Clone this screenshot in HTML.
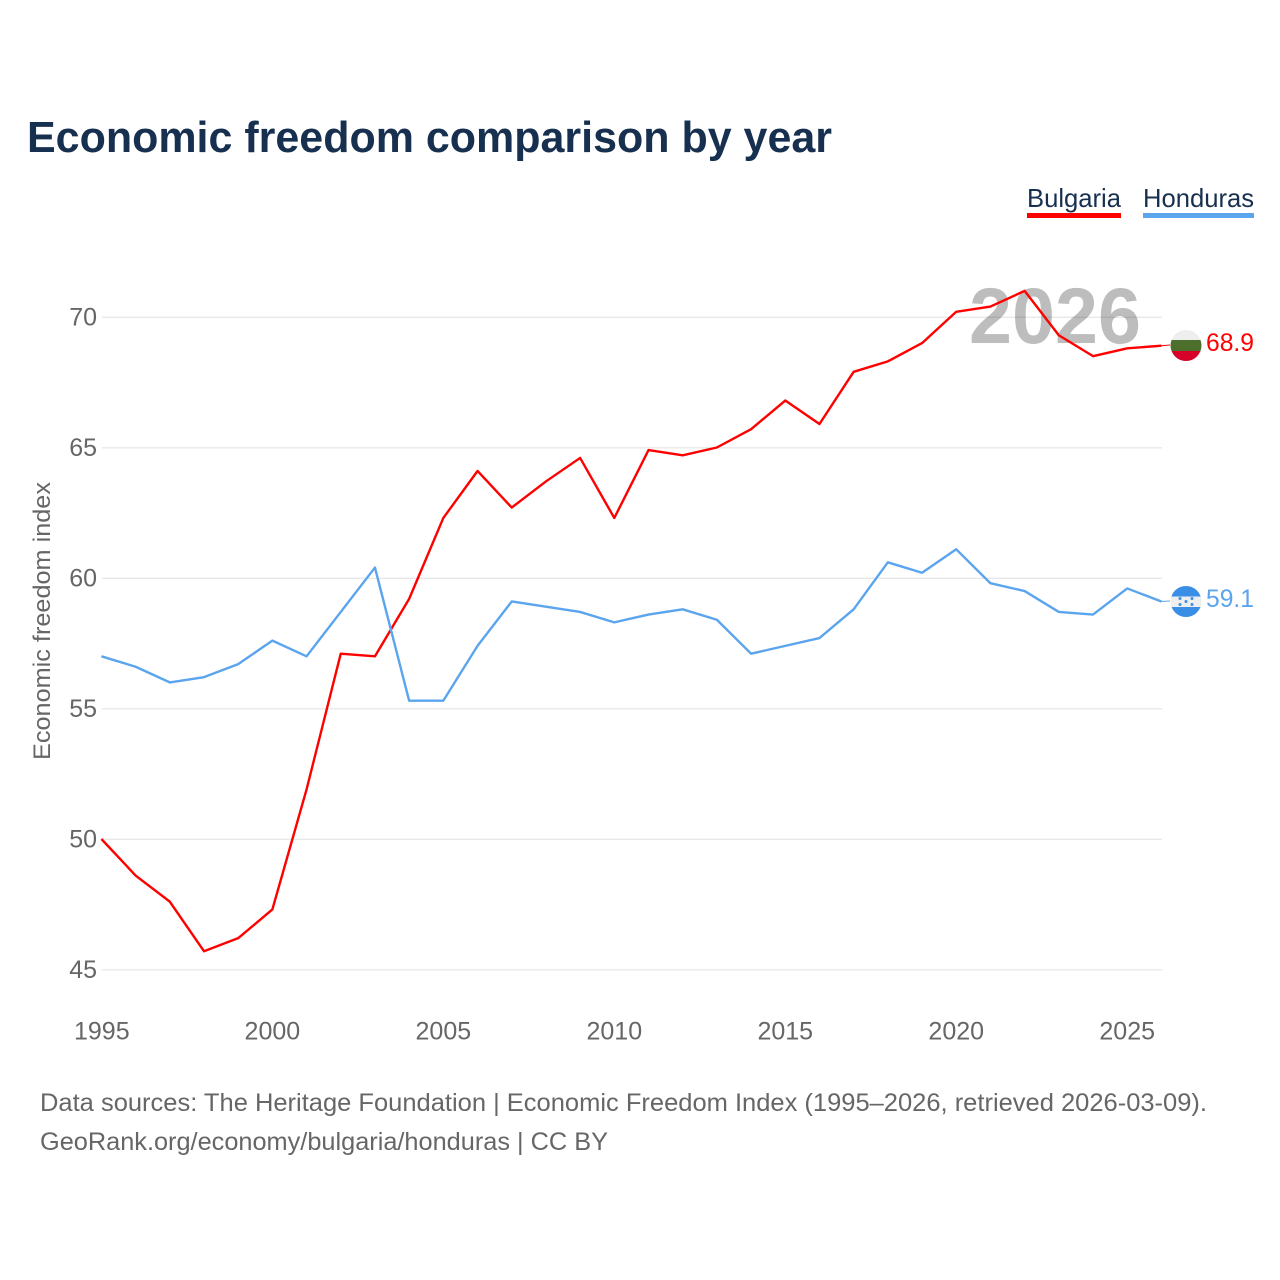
<!DOCTYPE html>
<html>
<head>
<meta charset="utf-8">
<style>
html,body{margin:0;padding:0;background:#fff;}
svg{display:block;font-family:"Liberation Sans",sans-serif;}
</style>
</head>
<body>
<svg id="chart" width="1280" height="1280" viewBox="0 0 1280 1280" xmlns="http://www.w3.org/2000/svg">
<rect width="1280" height="1280" fill="#fff"/>
<text x="27" y="152" font-size="44" font-weight="700" fill="#18304f" textLength="805" lengthAdjust="spacingAndGlyphs">Economic freedom comparison by year</text>
<g>
<text x="1027" y="207" font-size="26" fill="#18304f" textLength="94" lengthAdjust="spacingAndGlyphs">Bulgaria</text>
<rect x="1027" y="213" width="94" height="5" fill="#ff0000"/>
</g>
<g>
<text x="1143" y="207" font-size="26" fill="#18304f" textLength="111" lengthAdjust="spacingAndGlyphs">Honduras</text>
<rect x="1143" y="213" width="111" height="5" fill="#5ba4ee"/>
</g>
<text x="969" y="343" font-size="79" font-weight="700" fill="#bdbdbd" textLength="172" lengthAdjust="spacingAndGlyphs">2026</text>
<g id="grid"></g>
<g id="yticks"></g>
<g id="xticks"></g>
<text transform="translate(50,621) rotate(-90)" text-anchor="middle" font-size="24" fill="#666" textLength="278" lengthAdjust="spacingAndGlyphs">Economic freedom index</text>
<g id="series"></g>
<g id="flag-bg">
<clipPath id="clip-bg"><circle cx="1186" cy="345.5" r="15.5"/></clipPath>
<g clip-path="url(#clip-bg)">
<rect x="1170" y="330" width="32" height="10" fill="#eeeeee"/>
<rect x="1170" y="340" width="32" height="11" fill="#4d6f2e"/>
<rect x="1170" y="351" width="32" height="11" fill="#d6002a"/>
</g>
</g>
<g id="flag-hn">
<clipPath id="clip-hn"><circle cx="1186" cy="601.5" r="15.5"/></clipPath>
<g clip-path="url(#clip-hn)">
<rect x="1170" y="586" width="32" height="10.5" fill="#3b8ee6"/>
<rect x="1170" y="596.5" width="32" height="10.5" fill="#eeeeee"/>
<rect x="1170" y="607" width="32" height="11" fill="#3b8ee6"/>
<g fill="#3b8ee6">
<circle cx="1180" cy="598.5" r="1.5"/><circle cx="1192" cy="598.5" r="1.5"/>
<circle cx="1186" cy="601.5" r="1.5"/>
<circle cx="1180" cy="604.5" r="1.5"/><circle cx="1192" cy="604.5" r="1.5"/>
</g>
</g>
</g>
<text x="1206" y="351" font-size="25" fill="#ff0000" textLength="48" lengthAdjust="spacingAndGlyphs">68.9</text>
<text x="1206" y="607" font-size="25" fill="#5ba4ee" textLength="48" lengthAdjust="spacingAndGlyphs">59.1</text>
<text x="40" y="1111" font-size="25" fill="#666" textLength="1167" lengthAdjust="spacingAndGlyphs">Data sources: The Heritage Foundation | Economic Freedom Index (1995–2026, retrieved 2026-03-09).</text>
<text x="40" y="1150" font-size="25" fill="#666" textLength="568" lengthAdjust="spacingAndGlyphs">GeoRank.org/economy/bulgaria/honduras | CC BY</text>
</svg>
<script>
const years = [1995,1996,1997,1998,1999,2000,2001,2002,2003,2004,2005,2006,2007,2008,2009,2010,2011,2012,2013,2014,2015,2016,2017,2018,2019,2020,2021,2022,2023,2024,2025,2026];
const bulgaria = [50,48.6,47.6,45.7,46.2,47.3,51.9,57.1,57.0,59.2,62.3,64.1,62.7,63.7,64.6,62.3,64.9,64.7,65.0,65.7,66.8,65.9,67.9,68.3,69.0,70.2,70.4,71.0,69.3,68.5,68.8,68.9];
const honduras = [57.0,56.6,56.0,56.2,56.7,57.6,57.0,58.7,60.4,55.3,55.3,57.4,59.1,58.9,58.7,58.3,58.6,58.8,58.4,57.1,57.4,57.7,58.8,60.6,60.2,61.1,59.8,59.5,58.7,58.6,59.6,59.1];
const yTickLabels = [45,50,55,60,65,70];
const xTickLabels = [1995,2000,2005,2010,2015,2020,2025];

const NS = 'http://www.w3.org/2000/svg';
function xScale(year){ return 101.4 + (year - 1995) * (1161.4 - 101.4) / (2026 - 1995); }
function yScale(v){ return 969.5 - (v - 45) * (969.5 - 317) / (70 - 45); }

const grid = document.getElementById('grid');
const yticks = document.getElementById('yticks');
yTickLabels.forEach(function(t){
  const line = document.createElementNS(NS,'line');
  
  
  line.setAttribute('x1', 102);
  line.setAttribute('x2', 1162);
  line.setAttribute('y1', yScale(t) + 0.3);
  line.setAttribute('y2', yScale(t) + 0.3);
  line.setAttribute('stroke', 'rgba(0,0,0,0.09)');
  line.setAttribute('stroke-width', '1.3');
  grid.appendChild(line);
  const label = document.createElementNS(NS,'text');
  
  
  label.setAttribute('x', 97);
  label.setAttribute('y', yScale(t) + 8.5);
  label.setAttribute('text-anchor', 'end');
  label.setAttribute('font-size', '25');
  label.setAttribute('fill', '#666');
  label.textContent = t;
  yticks.appendChild(label);
});

const xticks = document.getElementById('xticks');
xTickLabels.forEach(function(t){
  const label = document.createElementNS(NS,'text');
  
  
  label.setAttribute('x', xScale(t));
  label.setAttribute('y', 1039.5);
  label.setAttribute('text-anchor', t === 1995 ? 'start' : 'middle');
  if (t === 1995) label.setAttribute('x', 74);
  label.setAttribute('font-size', '25');
  label.setAttribute('fill', '#666');
  label.textContent = t;
  xticks.appendChild(label);
});

const seriesGroup = document.getElementById('series');
function drawSeries(values, color, name, endY){
  const pts = values.map(function(v,i){ return xScale(years[i]).toFixed(2) + ',' + yScale(v).toFixed(2); }).join(' ');
  const line = document.createElementNS(NS,'polyline');
  
  
  line.setAttribute('points', pts);
  line.setAttribute('fill', 'none');
  line.setAttribute('stroke', color);
  line.setAttribute('stroke-width', '2.4');
  line.setAttribute('stroke-linejoin', 'round');
  seriesGroup.appendChild(line);
  const lastY = yScale(values[values.length - 1]);
  const conn = document.createElementNS(NS,'line');
  
  
  conn.setAttribute('x1', 1161.4);
  conn.setAttribute('x2', 1170);
  conn.setAttribute('y1', lastY);
  conn.setAttribute('y2', endY);
  conn.setAttribute('stroke', color);
  conn.setAttribute('stroke-width', '1');
  seriesGroup.appendChild(conn);
}
drawSeries(bulgaria, '#ff0000', 'line-bulgaria', 345);
drawSeries(honduras, '#5ba4ee', 'line-honduras', 601);
</script>
</body>
</html>
